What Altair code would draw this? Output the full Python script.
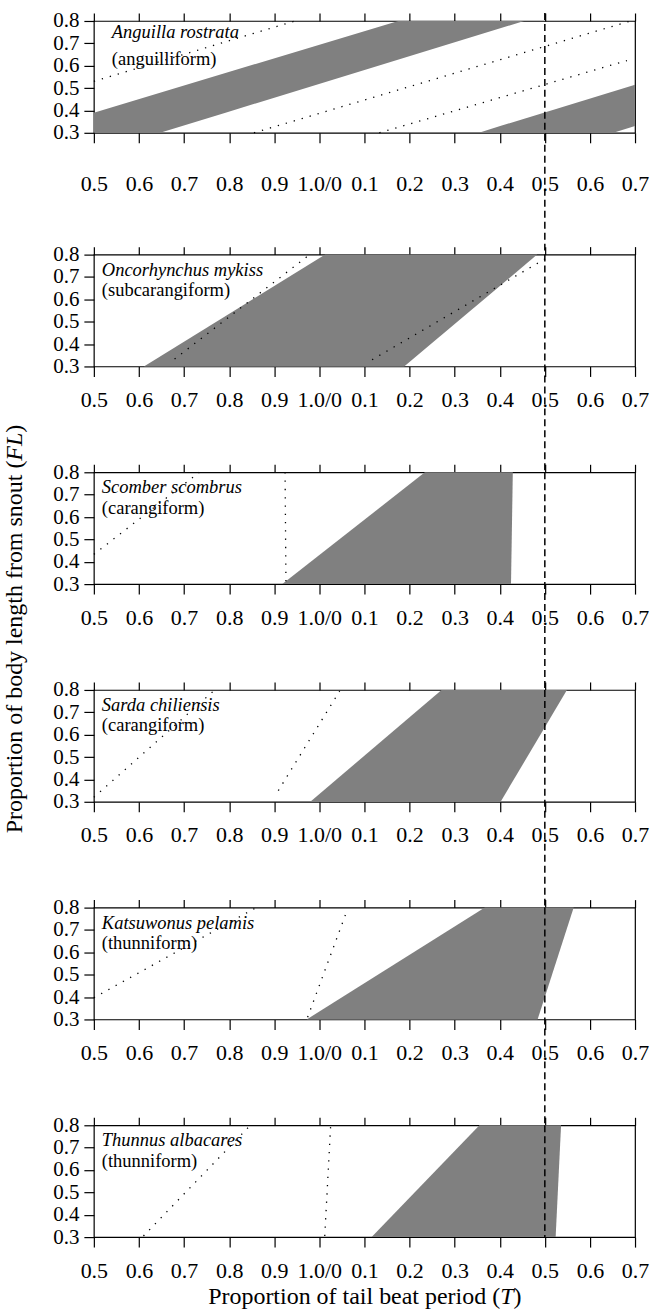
import altair as alt
import pandas as pd

# ---------------- data ----------------
species = ["Anguilla rostrata", "Oncorhynchus mykiss", "Scomber scombrus",
           "Sarda chiliensis", "Katsuwonus pelamis", "Thunnus albacares"]
modes = ["(anguilliform)", "(subcarangiform)", "(carangiform)",
         "(carangiform)", "(thunniform)", "(thunniform)"]

# grey regions: per panel, list of shapes, each a list of (y, x_left, x_right)
grey_shapes = [
    [[(0.30, 0.500, 0.647), (0.39, 0.500, 0.792), (0.80, 1.175, 1.454)],
     [(0.30, 1.354, 1.652), (0.33, 1.401, 1.700), (0.515, 1.700, 1.700)]],
    [[(0.30, 0.611, 1.188), (0.80, 1.013, 1.483)]],
    [[(0.30, 0.918, 1.425), (0.80, 1.234, 1.429)]],
    [[(0.30, 0.980, 1.402), (0.80, 1.271, 1.549)]],
    [[(0.30, 0.972, 1.484), (0.80, 1.367, 1.564)]],
    [[(0.30, 1.116, 1.524), (0.80, 1.355, 1.536)]],
]

# dotted lines: per panel, list of lines, each a list of (x, y)
dotted_lines = [
    [[(0.500, 0.530), (0.946, 0.800)],
     [(0.855, 0.300), (1.690, 0.800)],
     [(1.133, 0.300), (1.682, 0.623)]],
    [[(0.679, 0.333), (0.972, 0.790)],
     [(1.117, 0.330), (1.504, 0.785)]],
    [[(0.926, 0.300), (0.924, 0.800)],
     [(0.500, 0.433), (0.734, 0.800)]],
    [[(0.500, 0.320), (0.768, 0.800)],
     [(0.909, 0.350), (1.045, 0.795)]],
    [[(0.500, 0.397), (0.860, 0.800)],
     [(0.974, 0.310), (1.059, 0.774)]],
    [[(0.610, 0.305), (0.847, 0.800)],
     [(1.012, 0.305), (1.025, 0.795)]],
]

x_ticks = [0.5, 0.6, 0.7, 0.8, 0.9, 1.0, 1.1, 1.2, 1.3, 1.4, 1.5, 1.6, 1.7]
y_ticks = [0.3, 0.4, 0.5, 0.6, 0.7, 0.8]
phase_mark = [1.5]

y_title = ["Proportion of body length from snout (", "FL", ")"]
x_title = ["Proportion of tail beat period (", "T", ")"]

# ---------------- layout / style ----------------
FONT = "Liberation Serif"
W, H = 542, 112
GAP_FIRST, GAP = 122, 106
XTICK_FS, YTICK_FS, TITLE_FS, SP_FS = 22, 21, 24, 18.5
GREY = "#808080"

text_dx = [18, 8, 8, 8, 8, 8]
text_y1 = [17.5, 21, 21, 21, 21, 20.5]
text_y2 = [44, 41.5, 41.5, 41.5, 41.5, 41.5]

# Times metrics (em) for splitting the mixed roman/italic titles
_w = {"P": .556, "r": .333, "o": .5, "p": .5, "t": .278, "i": .278, "n": .5, "f": .333,
      "b": .5, "d": .5, "y": .5, "l": .278, "e": .444, "g": .5, "h": .5, "m": .778,
      "s": .389, "u": .5, "a": .444, "(": .333, ")": .333, " ": .25,
      "F": .611, "L": .556, "T": .556}


def tw(s, fs):
    return sum(_w.get(c, .5) for c in s) * fs


xscale = alt.Scale(domain=[0.5, 1.7], nice=False, zero=False)
yscale = alt.Scale(domain=[0.3, 0.8], nice=False, zero=False)

label_expr = ("datum.value < 0.95 ? format(datum.value, '.1f') : "
              "(datum.value < 1.05 ? '1.0/0' : format(datum.value - 1, '.1f'))")


def bottom_axis(pad):
    return alt.Axis(values=x_ticks, labelExpr=label_expr, orient="bottom", title=None,
                    domain=False, tickSize=10, tickWidth=1.2, tickColor="black",
                    labelFont=FONT, labelFontSize=XTICK_FS, labelColor="black",
                    labelPadding=pad, labelFlush=False, labelOverlap=False, grid=False,
                    minExtent=0)


top_axis = alt.Axis(values=x_ticks, orient="top", title=None, labels=False, domain=False,
                    tickSize=8, tickWidth=1.2, tickColor="black", grid=False,
                    minExtent=0, maxExtent=8)

left_axis = alt.Axis(values=y_ticks, format=".1f", title=None, domain=False,
                     tickSize=10, tickWidth=1.2, tickColor="black",
                     labelFont=FONT, labelFontSize=YTICK_FS, labelColor="black",
                     labelPadding=5, labelFlush=False, labelOverlap=False, grid=False,
                     minExtent=0)


def panel(i):
    layers = []
    for k, shape in enumerate(grey_shapes[i]):
        df = pd.DataFrame(shape, columns=["y", "xl", "xr"])
        layers.append(
            alt.Chart(df).mark_area(orient="horizontal", color=GREY, opacity=1).encode(
                y=alt.Y("y:Q", scale=yscale, axis=left_axis if k == 0 else None),
                x=alt.X("xl:Q", scale=xscale,
                        axis=bottom_axis(31 if i == 0 else 13) if k == 0 else None),
                x2="xr:Q",
            )
        )
    rows = []
    for j, line in enumerate(dotted_lines[i]):
        for (x, y) in line:
            rows.append({"line": j, "x": x, "y": y})
    layers.append(
        alt.Chart(pd.DataFrame(rows)).mark_line(
            color="black", strokeWidth=1.3, strokeDash=[1.3, 7], strokeCap="butt"
        ).encode(
            x=alt.X("x:Q", scale=xscale, axis=top_axis),
            y=alt.Y("y:Q", scale=yscale, axis=None),
            detail="line:N",
        )
    )
    if i == 0:
        y0, y1 = -8, H + GAP_FIRST
    elif i < 5:
        y0, y1 = 0, H + GAP
    else:
        y0, y1 = 0, H
    layers.append(
        alt.Chart(pd.DataFrame({"x": phase_mark})).mark_rule(
            color="black", strokeWidth=1.5, strokeDash=[7, 4]
        ).encode(x=alt.X("x:Q", scale=xscale, axis=None),
                 y=alt.value(y0), y2=alt.value(y1))
    )
    layers.append(
        alt.Chart(pd.DataFrame({"t": [species[i]]})).mark_text(
            align="left", baseline="alphabetic", font=FONT, fontSize=SP_FS,
            fontStyle="italic", color="black"
        ).encode(x=alt.value(text_dx[i]), y=alt.value(text_y1[i]), text="t:N")
    )
    layers.append(
        alt.Chart(pd.DataFrame({"t": [modes[i]]})).mark_text(
            align="left", baseline="alphabetic", font=FONT, fontSize=SP_FS, color="black"
        ).encode(x=alt.value(text_dx[i]), y=alt.value(text_y2[i]), text="t:N")
    )

    if i == 2:
        # vertical axis title, centred on the panel stack
        center = 628 - 471
        total = sum(tw(s, TITLE_FS) for s in y_title)
        top = center - total / 2
        w_fl = tw(y_title[1], TITLE_FS)
        w_par = tw(y_title[2], TITLE_FS)
        anchor = top + w_par + w_fl
        xc = 14 - 92.7
        for s, yy, al, sty in [(y_title[0], anchor, "right", "normal"),
                               (y_title[1], anchor, "left", "italic"),
                               (y_title[2], anchor - w_fl, "left", "normal")]:
            layers.append(
                alt.Chart(pd.DataFrame({"t": [s]})).mark_text(
                    align=al, baseline="middle", angle=270, font=FONT,
                    fontSize=TITLE_FS, fontStyle=sty, color="black"
                ).encode(x=alt.value(xc), y=alt.value(yy), text="t:N")
            )
    if i == 5:
        center = 364 - 92.7
        total = sum(tw(s, TITLE_FS) for s in x_title)
        start = center - total / 2
        anchor = start + tw(x_title[0], TITLE_FS)
        w_t = tw(x_title[1], TITLE_FS)
        yb = 1304 - 1125
        for s, xx, al, sty in [(x_title[0], anchor, "right", "normal"),
                               (x_title[1], anchor, "left", "italic"),
                               (x_title[2], anchor + w_t, "left", "normal")]:
            layers.append(
                alt.Chart(pd.DataFrame({"t": [s]})).mark_text(
                    align=al, baseline="alphabetic", font=FONT,
                    fontSize=TITLE_FS, fontStyle=sty, color="black"
                ).encode(x=alt.value(xx), y=alt.value(yb), text="t:N")
            )

    return alt.layer(*layers).resolve_axis(x="independent", y="independent").properties(
        width=W, height=H)


panels = [panel(i) for i in range(6)]
lower = alt.vconcat(*panels[1:], spacing=GAP, bounds="flush")
chart = alt.vconcat(panels[0], lower, spacing=GAP_FIRST, bounds="flush").properties(
    padding={"left": 2, "top": 8, "right": 0, "bottom": 0}
).configure_view(stroke="black", strokeWidth=1.2)

chart.save("out.html", embed_options={"renderer": "svg", "actions": False})
